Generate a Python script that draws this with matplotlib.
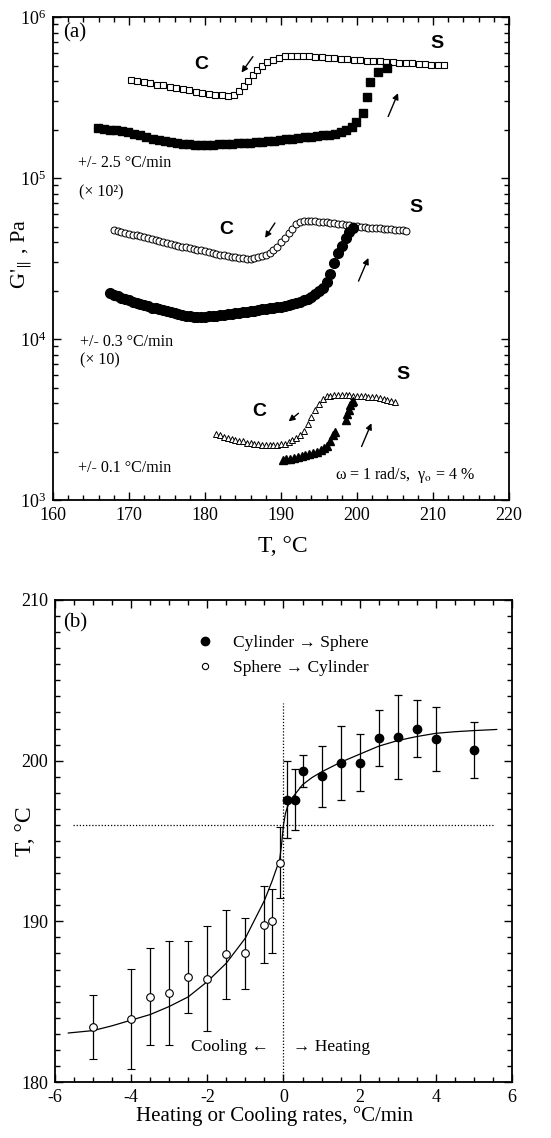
import numpy as np
import matplotlib
matplotlib.use("Agg")
import matplotlib.pyplot as plt
from matplotlib.lines import Line2D
from matplotlib.ticker import LogLocator, MultipleLocator, NullFormatter

plt.rcParams['font.family'] = ['Liberation Serif', 'DejaVu Serif']
plt.rcParams['mathtext.fontset'] = 'stix'
plt.rcParams['axes.unicode_minus'] = False

# ---------------- panel (a): G' vs T ----------------
# +/- 2.5 C/min (x 10^2), cooling (open squares)
sq_cool_T = [170.3, 171.1, 172.0, 172.8, 173.7, 174.5, 175.4, 176.2, 177.1, 177.9,
             178.8, 179.6, 180.5, 181.3, 182.2, 183.0, 183.8, 184.5, 185.1, 185.7,
             186.3, 186.9, 187.5, 188.2, 188.9, 189.7, 190.5, 191.3, 192.1, 192.9,
             193.7, 194.5, 195.4, 196.2, 197.0, 197.9, 198.7, 199.6, 200.4, 201.3,
             202.1, 203.0, 203.8, 204.7, 205.5, 206.4, 207.2, 208.1, 208.9, 209.8,
             210.6, 211.4]
sq_cool_G = np.array([4.06, 4.00, 3.93, 3.87, 3.81, 3.76, 3.69, 3.63, 3.56, 3.50,
                      3.44, 3.39, 3.34, 3.30, 3.26, 3.24, 3.28, 3.45, 3.72, 4.03,
                      4.37, 4.66, 4.94, 5.24, 5.45, 5.60, 5.70, 5.73, 5.73, 5.71,
                      5.69, 5.65, 5.61, 5.58, 5.55, 5.51, 5.47, 5.43, 5.40, 5.36,
                      5.33, 5.30, 5.27, 5.24, 5.22, 5.19, 5.16, 5.13, 5.10, 5.07,
                      5.04, 5.01]) * 1e5

# +/- 2.5 C/min (x 10^2), heating (filled squares)
sq_heat_T = [165.9, 166.7, 167.5, 168.3, 169.1, 169.9, 170.7, 171.5, 172.3, 173.1,
             173.9, 174.7, 175.5, 176.3, 177.1, 177.9, 178.7, 179.5, 180.3, 181.1,
             181.9, 182.7, 183.5, 184.3, 185.1, 185.9, 186.7, 187.5, 188.3, 189.1,
             189.9, 190.7, 191.5, 192.3, 193.1, 193.9, 194.7, 195.5, 196.3, 197.1,
             197.9, 198.6, 199.3, 199.9, 200.8, 201.3, 201.7, 202.8, 203.9]
sq_heat_G = np.array([2.04, 2.02, 2.00, 1.98, 1.95, 1.92, 1.89, 1.84, 1.80, 1.76,
                      1.73, 1.70, 1.67, 1.65, 1.63, 1.62, 1.61, 1.61, 1.61, 1.61,
                      1.62, 1.62, 1.63, 1.64, 1.65, 1.66, 1.67, 1.68, 1.69, 1.71,
                      1.72, 1.74, 1.75, 1.77, 1.79, 1.80, 1.82, 1.84, 1.86, 1.89,
                      1.93, 1.98, 2.07, 2.22, 2.53, 3.21, 3.97, 4.58, 4.81]) * 1e5

# +/- 0.3 C/min (x 10), cooling (open circles)
ci_cool_T = [168.0, 168.5, 169.0, 169.5, 170.0, 170.5, 171.0, 171.5, 172.0, 172.5,
             173.0, 173.5, 174.0, 174.5, 175.0, 175.5, 176.0, 176.5, 177.0, 177.5,
             178.0, 178.5, 179.0, 179.5, 180.0, 180.5, 181.0, 181.5, 182.0, 182.5,
             183.0, 183.5, 184.0, 184.5, 185.0, 185.5, 186.0, 186.5, 187.0, 187.5,
             188.0, 188.5, 189.0, 189.5, 190.0, 190.5, 191.0, 191.5, 192.0, 192.5,
             193.0, 193.5, 194.0, 194.5, 195.0, 195.5, 196.0, 196.5, 197.0, 197.5,
             198.0, 198.5, 199.0, 199.5, 200.0, 200.5, 201.0, 201.5, 202.0, 202.5,
             203.0, 203.5, 204.0, 204.5, 205.0, 205.5, 206.0, 206.5]
ci_cool_G = np.array([4.78, 4.71, 4.65, 4.58, 4.52, 4.46, 4.40, 4.34, 4.28, 4.22,
                      4.16, 4.10, 4.05, 3.99, 3.94, 3.89, 3.84, 3.80, 3.75, 3.71,
                      3.66, 3.62, 3.58, 3.55, 3.51, 3.47, 3.43, 3.39, 3.35, 3.31,
                      3.28, 3.25, 3.22, 3.19, 3.17, 3.15, 3.16, 3.19, 3.23, 3.28,
                      3.34, 3.43, 3.56, 3.73, 3.98, 4.26, 4.55, 4.86, 5.15, 5.32,
                      5.38, 5.39, 5.39, 5.38, 5.37, 5.35, 5.32, 5.29, 5.25, 5.21,
                      5.17, 5.12, 5.08, 5.05, 5.02, 4.99, 4.96, 4.93, 4.91, 4.89,
                      4.87, 4.85, 4.83, 4.80, 4.78, 4.76, 4.74, 4.72]) * 1e4

# +/- 0.3 C/min (x 10), heating (filled circles)
ci_heat_T = [167.5, 168.0, 168.5, 169.0, 169.5, 170.0, 170.5, 171.0, 171.5, 172.0,
             172.5, 173.0, 173.5, 174.0, 174.5, 175.0, 175.5, 176.0, 176.5, 177.0,
             177.5, 178.0, 178.5, 179.0, 179.5, 180.0, 180.5, 181.0, 181.5, 182.0,
             182.5, 183.0, 183.5, 184.0, 184.5, 185.0, 185.5, 186.0, 186.5, 187.0,
             187.5, 188.0, 188.5, 189.0, 189.5, 190.0, 190.5, 191.0, 191.5, 192.0,
             192.5, 193.0, 193.5, 194.0, 194.5, 195.0, 195.5, 196.0, 196.5, 197.0,
             197.5, 198.0, 198.5, 199.0, 199.5]
ci_heat_G = np.array([1.93, 1.89, 1.85, 1.81, 1.78, 1.74, 1.71, 1.68, 1.65, 1.62,
                      1.60, 1.57, 1.55, 1.53, 1.51, 1.49, 1.47, 1.45, 1.43, 1.42,
                      1.40, 1.39, 1.38, 1.38, 1.38, 1.38, 1.39, 1.39, 1.40, 1.41,
                      1.42, 1.43, 1.44, 1.45, 1.46, 1.47, 1.48, 1.49, 1.50, 1.52,
                      1.53, 1.54, 1.55, 1.57, 1.58, 1.59, 1.61, 1.63, 1.65, 1.68,
                      1.71, 1.74, 1.78, 1.83, 1.90, 1.98, 2.08, 2.26, 2.55, 2.98,
                      3.42, 3.80, 4.25, 4.65, 4.90]) * 1e4

# +/- 0.1 C/min, cooling (open triangles)
tr_cool_T = [181.5, 182.0, 182.5, 183.0, 183.5, 184.0, 184.5, 185.0, 185.5, 186.0,
             186.5, 187.0, 187.5, 188.0, 188.5, 189.0, 189.5, 190.0, 190.5, 191.0,
             191.5, 192.0, 192.5, 193.0, 193.5, 194.0, 194.5, 195.0, 195.5, 196.0,
             196.5, 197.0, 197.5, 198.0, 198.5, 199.0, 199.5, 200.0, 200.5, 201.0,
             201.5, 202.0, 202.5, 203.0, 203.5, 204.0, 204.5, 205.0]
tr_cool_G = np.array([2.57, 2.52, 2.47, 2.43, 2.40, 2.37, 2.34, 2.31, 2.27, 2.25,
                      2.23, 2.22, 2.21, 2.20, 2.20, 2.21, 2.21, 2.22, 2.24, 2.29,
                      2.35, 2.44, 2.55, 2.70, 2.97, 3.28, 3.60, 3.95, 4.25, 4.40,
                      4.46, 4.49, 4.51, 4.51, 4.50, 4.47, 4.44, 4.43, 4.42, 4.41,
                      4.39, 4.37, 4.34, 4.30, 4.24, 4.17, 4.10, 4.05]) * 1e3

# +/- 0.1 C/min, heating (filled triangles)
tr_heat_T = [190.2, 190.7, 191.2, 191.7, 192.2, 192.7, 193.2, 193.7, 194.2, 194.7,
             195.2, 195.7, 196.1, 196.5, 196.8, 197.1, 198.5, 198.7, 198.9, 199.1,
             199.3, 199.5]
tr_heat_G = np.array([1.77, 1.79, 1.81, 1.83, 1.85, 1.87, 1.90, 1.93, 1.96, 2.00,
                      2.05, 2.11, 2.18, 2.32, 2.52, 2.66, 3.15, 3.40, 3.65, 3.90,
                      4.05, 4.15]) * 1e3

# ---------------- panel (b): transition T vs rate ----------------
heat_rate = [0.1, 0.3, 0.5, 1.0, 1.5, 2.0, 2.5, 3.0, 3.5, 4.0, 5.0]
heat_T = [197.56, 197.56, 199.35, 199.04, 199.85, 199.88, 201.4, 201.46, 202.0, 201.33, 200.67]
heat_err = [2.4, 1.9, 1.0, 1.9, 2.3, 1.75, 1.75, 2.6, 1.75, 2.0, 1.75]

cool_rate = [-5.0, -4.0, -3.5, -3.0, -2.5, -2.0, -1.5, -1.0, -0.5, -0.3, -0.1]
cool_T = [183.44, 183.92, 185.31, 185.54, 186.54, 186.44, 187.94, 188.0, 189.79, 190.0, 193.65]
cool_err = [2.0, 3.1, 3.0, 3.26, 2.26, 3.25, 2.76, 2.2, 2.4, 2.0, 2.2]

# fitted curve
fit_rate = [-5.65, -5.0, -4.5, -4.0, -3.5, -3.0, -2.5, -2.0, -1.5, -1.0, -0.5, -0.3,
            -0.1, -0.05, 0.0, 0.05, 0.1, 0.2, 0.3, 0.5, 0.75, 1.0, 1.5, 2.0, 2.5,
            3.0, 3.5, 4.0, 4.5, 5.0, 5.6]
fit_T = [183.05, 183.2, 183.5, 183.85, 184.2, 184.7, 185.3, 186.25, 187.4, 188.96,
         191.3, 192.5, 193.85, 194.8, 196.0, 196.7, 197.1, 197.6, 197.9, 198.5,
         198.95, 199.3, 199.9, 200.4, 200.9, 201.25, 201.5, 201.7, 201.8, 201.87, 201.94]

fig = plt.figure(figsize=(5.51, 11.38), dpi=100)
axa = fig.add_axes([0.0962, 0.5606, 0.8276, 0.4244])
axb = fig.add_axes([0.0998, 0.0492, 0.8294, 0.4236])

# panel (a)
axa.plot(sq_cool_T, sq_cool_G, 's', ms=5, mfc='white', mec='k', mew=0.8, ls='none')
axa.plot(sq_heat_T, sq_heat_G, 's', ms=6.3, color='k', ls='none')
axa.plot(ci_cool_T, ci_cool_G, 'o', ms=5, mfc='white', mec='k', mew=0.7, ls='none')
axa.plot(ci_heat_T, ci_heat_G, 'o', ms=7, color='k', ls='none')
axa.plot(tr_cool_T, tr_cool_G, '^', ms=5, mfc='white', mec='k', mew=0.7, ls='none')
axa.plot(tr_heat_T, tr_heat_G, '^', ms=6, color='k', ls='none')

arrows = [((186.3, 5.68e5), (184.8, 4.52e5)), ((204.1, 2.41e5), (205.4, 3.37e5)),
          ((189.2, 5.26e4), (187.9, 4.25e4)), ((200.2, 2.29e4), (201.5, 3.19e4)),
          ((192.3, 3.46e3), (191.0, 3.08e3)), ((200.6, 2.15e3), (201.9, 3.0e3))]
for tail, head in arrows:
    axa.annotate('', xy=head, xytext=tail,
                 arrowprops=dict(arrowstyle='-|>', color='k', lw=1.0,
                                 mutation_scale=9, shrinkA=0, shrinkB=0))

cs_labels = [('C', 179.5, 5.04e5), ('S', 210.5, 6.87e5), ('C', 182.8, 4.79e4),
             ('S', 207.8, 6.52e4), ('C', 187.1, 3.55e3), ('S', 206.1, 6.0e3)]
for lab, tx, ty in cs_labels:
    axa.text(tx, ty, lab, ha='center', va='center', fontsize=14,
             fontweight='bold', family='Liberation Sans')

axa.set_yscale('log')
axa.set_xlim(160, 220)
axa.set_ylim(1e3, 1e6)
axa.xaxis.set_major_locator(MultipleLocator(10))
axa.xaxis.set_minor_locator(MultipleLocator(2))
axa.yaxis.set_major_locator(LogLocator(base=10, numticks=10))
axa.yaxis.set_minor_locator(LogLocator(base=10, subs=np.arange(2, 10), numticks=20))
axa.yaxis.set_minor_formatter(NullFormatter())

axa.text(0.022, 0.967, '(a)', transform=axa.transAxes, fontsize=15, va='center')
axa.text(0.055, 0.698, '+/- 2.5 °C/min', transform=axa.transAxes, fontsize=11.5, va='center')
axa.text(0.057, 0.638, '(× 10²)', transform=axa.transAxes, fontsize=11.5, va='center')
axa.text(0.059, 0.327, '+/- 0.3 °C/min', transform=axa.transAxes, fontsize=11.5, va='center')
axa.text(0.059, 0.290, '(× 10)', transform=axa.transAxes, fontsize=11.5, va='center')
axa.text(0.055, 0.066, '+/- 0.1 °C/min', transform=axa.transAxes, fontsize=11.5, va='center')
axa.text(0.618, 0.052, r'ω = 1 rad/s,  γ$_{\rm o}$ = 4 %', transform=axa.transAxes,
         fontsize=11.5, va='center')

axa.set_xlabel('T, °C', fontsize=17)
axa.xaxis.set_label_coords(0.504, -0.074)
axa.set_ylabel(r"G$'_{\Vert}$ , Pa", fontsize=16)
axa.yaxis.set_label_coords(-0.04, 0.51)

# panel (b)
axb.plot(fit_rate, fit_T, '-', color='k', lw=0.9)
axb.plot([0, 0], [180, 203.6], color='k', lw=0.9, ls=(0, (1, 1.5)))
axb.plot([-5.53, 5.5], [196, 196], color='k', lw=0.9, ls=(0, (1, 1.5)))
axb.errorbar(heat_rate, heat_T, yerr=heat_err, fmt='o', ms=6, color='k',
             ecolor='k', elinewidth=0.9, capsize=3, capthick=0.9)
axb.errorbar(cool_rate, cool_T, yerr=cool_err, fmt='o', ms=5.5, mfc='white', mec='k',
             mew=0.8, ecolor='k', elinewidth=0.9, capsize=3, capthick=0.9)
axb.plot(cool_rate, cool_T, '.', ms=1.5, color='k')

axb.set_xlim(-6, 6)
axb.set_ylim(180, 210)
axb.xaxis.set_major_locator(MultipleLocator(2))
axb.xaxis.set_minor_locator(MultipleLocator(0.5))
axb.yaxis.set_major_locator(MultipleLocator(10))
axb.yaxis.set_minor_locator(MultipleLocator(1))

handles = [Line2D([], [], marker='o', ms=6, color='k', ls='none'),
           Line2D([], [], marker='o', ms=4.5, mfc='white', mec='k', mew=0.8, ls='none')]
axb.legend(handles, ['Cylinder → Sphere', 'Sphere → Cylinder'], loc='center left',
           bbox_to_anchor=(0.275, 0.885), frameon=False, fontsize=12.5,
           handlelength=1.0, handletextpad=1.1, labelspacing=0.55)

axb.text(0.018, 0.952, '(b)', transform=axb.transAxes, fontsize=15, va='center')
axb.text(-0.38, 182.2, 'Cooling ←', ha='right', va='center', fontsize=12.5)
axb.text(0.26, 182.2, '→ Heating', ha='left', va='center', fontsize=12.5)

axb.set_xlabel('Heating or Cooling rates, °C/min', fontsize=15)
axb.xaxis.set_label_coords(0.48, -0.05)
axb.set_ylabel('T, °C', fontsize=17)
axb.yaxis.set_label_coords(-0.042, 0.52)

for ax in (axa, axb):
    ax.tick_params(which='both', direction='in', top=True, right=True, width=1)
    ax.tick_params(which='major', length=6, labelsize=13, pad=5)
    ax.tick_params(which='minor', length=3.5)
    for sp in ax.spines.values():
        sp.set_linewidth(1.3)

fig.savefig('out.png', dpi=100)
